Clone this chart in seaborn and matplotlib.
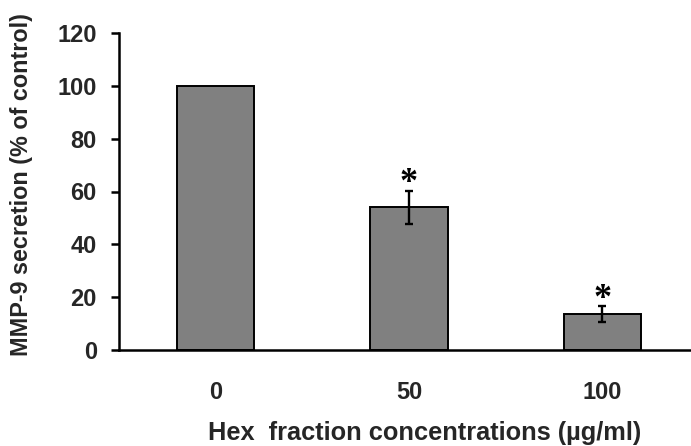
import matplotlib
matplotlib.use("Agg")
import matplotlib.pyplot as plt
import seaborn as sns
import pandas as pd

# Data: MMP-9 secretion relative to untreated control
concentrations = ["0", "50", "100"]
mmp9_secretion = [100.0, 54.0, 13.7]
sem_errors = [0.0, 6.3, 3.0]
significant = [False, True, True]

x_label = "Hex  fraction concentrations (\u00b5g/ml)"
y_label = "MMP-9 secretion (% of control)"
y_ticks = [0, 20, 40, 60, 80, 100, 120]

sns.set_style("white")
plt.rcParams["font.family"] = ["Liberation Sans", "DejaVu Sans"]
plt.rcParams["font.weight"] = "bold"

df = pd.DataFrame({"conc": concentrations, "mmp9": mmp9_secretion, "err": sem_errors})

fig = plt.figure(figsize=(6.91, 4.46), dpi=100)
W, H = 691.0, 446.0
ax = fig.add_axes([119 / W, 1 - 350 / H, 580 / W, 317 / H])

sns.barplot(data=df, x="conc", y="mmp9", order=concentrations, color="#808080",
            edgecolor="black", linewidth=1.4, width=0.4, errorbar=None,
            saturation=1, ax=ax)

# Error bars and significance marks
for i, (m, e, s) in enumerate(zip(mmp9_secretion, sem_errors, significant)):
    if e > 0:
        ax.errorbar(i, m, yerr=e, fmt="none", ecolor="black", elinewidth=1.7,
                    capsize=3, capthick=1.7, zorder=5)
    if s:
        ax.annotate("*", xy=(i, m + e), xytext=(0, -7), textcoords="offset points",
                    ha="center", va="bottom", fontsize=26, fontweight="bold",
                    family="Liberation Serif", color="black")

ax.set_xlim(-0.5, 2.5)
ax.set_ylim(0, 120)
ax.set_yticks(y_ticks)
ax.set_yticklabels([str(t) for t in y_ticks])

# Category labels at bar centres, tick marks on the category boundaries
ax.set_xticks(range(len(concentrations)))
ax.set_xticklabels(concentrations)
ax.set_xticks([-0.5, 0.5, 1.5, 2.5], minor=True)
ax.tick_params(axis="x", which="major", length=0, pad=22, labelsize=17)
ax.tick_params(axis="x", which="minor", length=6, width=1.8, direction="out",
               color="black")
ax.tick_params(axis="y", which="major", length=6, width=1.8, direction="out",
               pad=10, labelsize=17, color="black", left=True)

for lab in ax.get_xticklabels() + ax.get_yticklabels():
    lab.set_fontweight("bold")

sns.despine(ax=ax)
for side in ("left", "bottom"):
    ax.spines[side].set_linewidth(1.8)
    ax.spines[side].set_color("black")

ax.set_xlabel(x_label, fontsize=18.3, fontweight="bold")
ax.set_ylabel(y_label, fontsize=16.8, fontweight="bold")
ax.xaxis.set_label_coords((425 - 119) / 580, (350 - 421) / 317)
ax.yaxis.set_label_coords((33 - 119) / 580, (350 - 185) / 317)

fig.savefig("out.png", dpi=100)
